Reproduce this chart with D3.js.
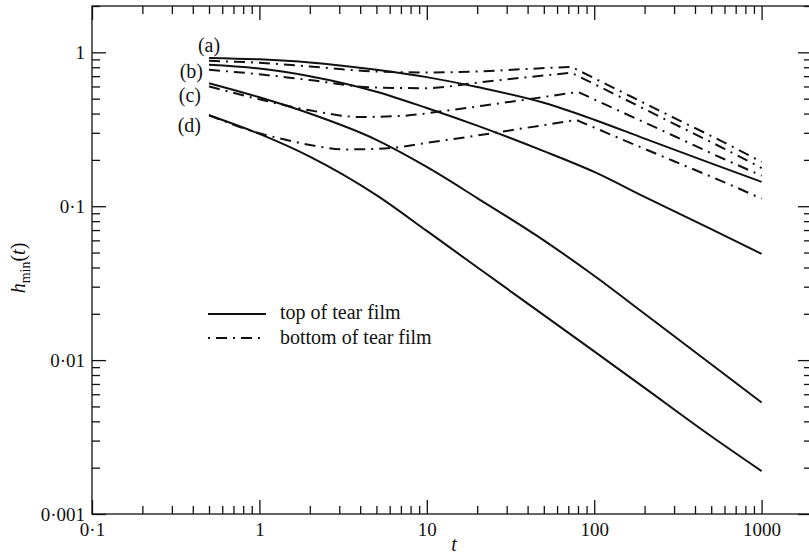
<!DOCTYPE html>
<html>
<head>
<meta charset="utf-8">
<script src="https://cdn.jsdelivr.net/npm/d3@7"></script>
<style>
  html, body { margin: 0; padding: 0; background: #fff; }
  svg { display: block; }
</style>
</head>
<body>
<svg id="chart" width="809" height="556"></svg>
<script>
// Minimum film thickness h_min(t) for cases (a)-(d): top and bottom surfaces.
const curveNames = ["(a)", "(b)", "(c)", "(d)"];

const tTop = [0.5, 1, 2, 5, 10, 20, 50, 100, 200, 500, 1000];
const topA = [0.92, 0.90, 0.86, 0.77, 0.69, 0.595, 0.47, 0.365, 0.275, 0.19, 0.144];
const topB = [0.83, 0.785, 0.70, 0.555, 0.435, 0.334, 0.228, 0.167, 0.115, 0.071, 0.049];
const topC = [0.63, 0.51, 0.40, 0.27, 0.18, 0.113, 0.06, 0.0353, 0.02, 0.0094, 0.0053];
const topD = [0.39, 0.295, 0.21, 0.118, 0.0691, 0.0401, 0.0196, 0.0114, 0.0066, 0.0032, 0.0019];

const tBotAB = [0.5, 1, 2, 5, 10, 20, 40, 73, 150, 300, 600, 1000];
const botA = [0.88, 0.855, 0.81, 0.75, 0.74, 0.75, 0.78, 0.805, 0.545, 0.375, 0.259, 0.194];
const botB = [0.77, 0.72, 0.66, 0.59, 0.585, 0.635, 0.69, 0.736, 0.50, 0.343, 0.236, 0.177];
const tBotC = [0.5, 1, 2, 4, 7, 13, 26, 45, 80, 150, 300, 600, 1000];
const botC = [0.60, 0.495, 0.42, 0.38, 0.386, 0.417, 0.463, 0.504, 0.553, 0.404, 0.286, 0.202, 0.158];
const tBotD = [0.5, 1, 1.4, 2, 3.3, 5, 7, 10, 20, 40, 78, 150, 300, 600, 1000];
const botD = [0.39, 0.298, 0.272, 0.25, 0.234, 0.236, 0.243, 0.258, 0.288, 0.324, 0.364, 0.269, 0.196, 0.143, 0.112];

const xTickVals = [0.1, 1, 10, 100, 1000];
const xTickLabels = ["0·1", "1", "10", "100", "1000"];
const yTickVals = [0.001, 0.01, 0.1, 1];
const yTickLabels = ["0·001", "0·01", "0·1", "1"];
const legendLabels = ["top of tear film", "bottom of tear film"];

// ---- layout ----
const FONT = '"Liberation Serif", "Times New Roman", "DejaVu Serif", serif';
const svg = d3.select("#chart").attr("font-family", FONT);
const L = 92, R = 812, T = 6, B = 514;
const x = d3.scaleLog().domain([0.1, 2000]).range([L, R]);
const y = d3.scaleLog().domain([0.001, 2]).range([B, T]);
const ink = "#111";
const dashDot = "11,6,2,6";

const topSeries = [topA, topB, topC, topD].map(v => tTop.map((t, i) => [t, v[i]]));
const botSeries = [[tBotAB, botA], [tBotAB, botB], [tBotC, botC], [tBotD, botD]]
  .map(([ts, v]) => ts.map((t, i) => [t, v[i]]));

// frame
svg.append("rect")
  .attr("x", L).attr("y", T).attr("width", R - L).attr("height", B - T)
  .attr("fill", "none").attr("stroke", ink).attr("stroke-width", 1.3);

// ticks on all four sides, pointing inward
const xMinor = x.ticks().filter(d => !xTickVals.includes(d));
const yMinor = y.ticks().filter(d => !yTickVals.some(v => Math.abs(v - d) < 1e-12));
const fmtX = d => xTickLabels[xTickVals.indexOf(d)];
const fmtY = d => yTickLabels[yTickVals.findIndex(v => Math.abs(v - d) < 1e-12)];

function axisGroup(axis, tx, ty) {
  const g = svg.append("g").attr("transform", `translate(${tx},${ty})`).call(axis);
  g.attr("font-family", FONT).attr("font-size", 19);
  g.select(".domain").remove();
  g.selectAll("line").attr("stroke", ink).attr("stroke-width", 1.3);
  g.selectAll("text").attr("fill", ink);
  return g;
}
const major = 14, minor = 8;
axisGroup(d3.axisBottom(x).tickValues(xTickVals).tickSize(-major).tickPadding(9).tickFormat(fmtX), 0, B);
axisGroup(d3.axisBottom(x).tickValues(xMinor).tickSize(-minor).tickFormat(""), 0, B);
axisGroup(d3.axisTop(x).tickValues(xTickVals).tickSize(-major).tickFormat(""), 0, T);
axisGroup(d3.axisTop(x).tickValues(xMinor).tickSize(-minor).tickFormat(""), 0, T);
axisGroup(d3.axisLeft(y).tickValues(yTickVals).tickSize(-major).tickPadding(7).tickFormat(fmtY), L, 0);
axisGroup(d3.axisLeft(y).tickValues(yMinor).tickSize(-minor).tickFormat(""), L, 0);
axisGroup(d3.axisRight(y).tickValues(yTickVals).tickSize(-major).tickFormat(""), R, 0);
axisGroup(d3.axisRight(y).tickValues(yMinor).tickSize(-minor).tickFormat(""), R, 0);

// curves
const line = d3.line().x(d => x(d[0])).y(d => y(d[1])).curve(d3.curveMonotoneX);
const plot = svg.append("g");

topSeries.forEach(s => {
  plot.append("path").attr("d", line(s))
    .attr("fill", "none").attr("stroke", ink).attr("stroke-width", 2);
});

// bottom curves: rising and falling branches join at a corner
botSeries.forEach(s => {
  const k = d3.maxIndex(s.slice(3), d => d[1]) + 3;
  const up = line(s.slice(0, k + 1));
  const down = line(s.slice(k)).replace(/^M[^A-Za-z]*/, "");
  plot.append("path").attr("d", up + down)
    .attr("fill", "none").attr("stroke", ink).attr("stroke-width", 2)
    .attr("stroke-dasharray", dashDot);
});

// case labels
const labelPos = [[0, -13, "middle"], [-6, 6, "end"], [-8, 12, "end"], [-8, 10, "end"]];
curveNames.forEach((name, i) => {
  const [dx, dy, anchor] = labelPos[i];
  svg.append("text")
    .attr("x", x(tTop[0]) + dx).attr("y", y(topSeries[i][0][1]) + dy)
    .attr("dy", "0.35em").attr("text-anchor", anchor)
    .attr("font-size", 20).attr("fill", ink).text(name);
});

// legend
const lg = svg.append("g").attr("transform", "translate(208,314)");
lg.append("line").attr("x1", 0).attr("x2", 58).attr("y1", 0).attr("y2", 0)
  .attr("stroke", ink).attr("stroke-width", 2);
lg.append("line").attr("x1", 0).attr("x2", 58).attr("y1", 24).attr("y2", 24)
  .attr("stroke", ink).attr("stroke-width", 2)
  .attr("stroke-dasharray", dashDot).attr("stroke-dashoffset", 17);
legendLabels.forEach((txt, i) => {
  lg.append("text").attr("x", 72).attr("y", i * 25 + 5)
    .attr("font-size", 20).attr("fill", ink).text(txt);
});

// axis titles
svg.append("text").attr("x", 454).attr("y", 551).attr("text-anchor", "middle")
  .attr("font-size", 20).attr("font-style", "italic").attr("fill", ink).text("t");

const yt = svg.append("text")
  .attr("transform", "translate(25,268) rotate(-90)")
  .attr("text-anchor", "middle").attr("font-size", 20).attr("fill", ink);
yt.append("tspan").attr("font-style", "italic").text("h");
yt.append("tspan").attr("dy", 5).attr("font-size", 14).text("min");
yt.append("tspan").attr("dy", -5).text("(");
yt.append("tspan").attr("font-style", "italic").text("t");
yt.append("tspan").text(")");
</script>
</body>
</html>
